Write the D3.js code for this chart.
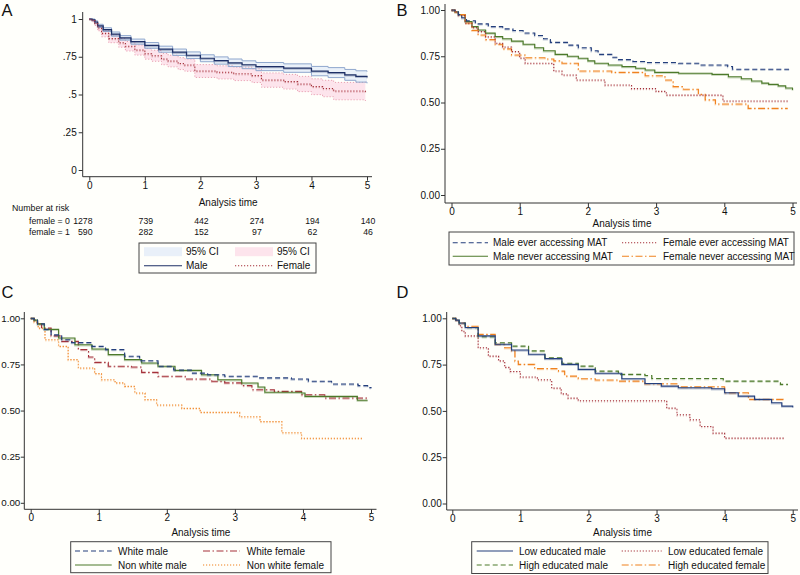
<!DOCTYPE html>
<html><head><meta charset="utf-8">
<script src="https://cdn.jsdelivr.net/npm/d3@7"></script>
<style>body{margin:0;background:#fffffb}svg{display:block}</style>
</head><body><svg id="c" width="800" height="575"></svg>
<script>
// ---------- DATA ----------
const timeTicks = [0, 1, 2, 3, 4, 5];
const yTicks = [0, 0.25, 0.5, 0.75, 1];
const yLabelsA = ["0", ".25", ".5", ".75", "1"];
const yLabelsB = ["0.00", "0.25", "0.50", "0.75", "1.00"];

// Panel A: [time, survival, lower CI, upper CI]
const aMale = [[0,1,1,1],[0.05,0.995,0.99,1],[0.1,0.98,0.972,0.988],[0.15,0.955,0.945,0.965],[0.25,0.93,0.918,0.942],[0.4,0.9,0.886,0.914],[0.55,0.875,0.86,0.89],[0.75,0.85,0.833,0.867],[1.0,0.825,0.806,0.844],[1.25,0.8,0.78,0.82],[1.5,0.78,0.759,0.801],[1.75,0.76,0.738,0.782],[2.0,0.74,0.717,0.763],[2.25,0.725,0.701,0.749],[2.5,0.71,0.685,0.735],[2.75,0.697,0.671,0.723],[3.0,0.685,0.658,0.712],[3.5,0.675,0.647,0.703],[4.0,0.655,0.624,0.686],[4.3,0.645,0.612,0.678],[4.6,0.63,0.594,0.666],[4.8,0.62,0.582,0.657],[5.0,0.614,0.574,0.651]];
const aFemale = [[0,1,1,1],[0.05,0.99,0.982,0.998],[0.1,0.97,0.958,0.982],[0.15,0.94,0.922,0.958],[0.22,0.905,0.882,0.927],[0.35,0.87,0.843,0.896],[0.53,0.843,0.813,0.872],[0.65,0.82,0.788,0.851],[0.82,0.795,0.761,0.828],[1.0,0.77,0.734,0.805],[1.12,0.757,0.72,0.793],[1.3,0.735,0.697,0.772],[1.42,0.722,0.683,0.76],[1.6,0.705,0.665,0.744],[1.72,0.695,0.654,0.735],[1.9,0.656,0.613,0.698],[2.3,0.647,0.603,0.69],[2.6,0.637,0.592,0.681],[2.93,0.625,0.579,0.67],[3.1,0.596,0.548,0.643],[3.5,0.585,0.536,0.633],[3.75,0.57,0.519,0.62],[4.0,0.552,0.499,0.604],[4.2,0.54,0.485,0.594],[4.4,0.523,0.465,0.58],[4.97,0.517,0.457,0.585]];
const riskRowLabels = ["female = 0", "female = 1"];
const riskMale = [1278, 739, 442, 274, 194, 140];
const riskFemale = [590, 282, 152, 97, 62, 46];

// Panel B: [time, survival]
const bMaleEver = [[0,1],[0.05,0.99],[0.1,0.975],[0.15,0.958],[0.22,0.942],[0.35,0.925],[0.54,0.91],[0.75,0.898],[0.9,0.889],[1.05,0.876],[1.22,0.862],[1.35,0.845],[1.45,0.825],[1.7,0.81],[1.86,0.796],[2.05,0.78],[2.15,0.76],[2.35,0.745],[2.45,0.732],[2.66,0.722],[2.84,0.716],[3.33,0.712],[3.64,0.703],[4.05,0.695],[4.12,0.68],[4.95,0.68]];
const bMaleNever = [[0,1],[0.05,0.99],[0.1,0.975],[0.2,0.937],[0.3,0.91],[0.39,0.892],[0.5,0.875],[0.64,0.856],[0.75,0.845],[0.88,0.832],[1.05,0.815],[1.22,0.796],[1.35,0.78],[1.52,0.76],[1.7,0.75],[1.86,0.739],[2.0,0.725],[2.1,0.712],[2.3,0.703],[2.5,0.694],[2.7,0.685],[2.84,0.676],[2.98,0.663],[3.33,0.658],[3.82,0.652],[4.06,0.639],[4.25,0.628],[4.4,0.616],[4.55,0.605],[4.65,0.598],[4.79,0.59],[4.9,0.578],[5.0,0.568]];
const bFemaleEver = [[0,1],[0.05,0.99],[0.1,0.97],[0.2,0.928],[0.3,0.905],[0.39,0.883],[0.5,0.855],[0.64,0.82],[0.75,0.8],[0.88,0.775],[1.0,0.74],[1.08,0.712],[1.47,0.706],[1.5,0.67],[1.62,0.649],[1.83,0.622],[2.25,0.595],[2.64,0.575],[3.0,0.56],[3.15,0.54],[3.98,0.508],[4.93,0.508]];
const bFemaleNever = [[0,1],[0.05,0.99],[0.1,0.975],[0.2,0.93],[0.3,0.89],[0.39,0.865],[0.5,0.84],[0.64,0.815],[0.75,0.79],[0.88,0.757],[1.08,0.742],[1.37,0.735],[1.5,0.725],[1.62,0.712],[1.86,0.67],[2.35,0.663],[2.84,0.645],[3.13,0.622],[3.25,0.586],[3.4,0.572],[3.62,0.544],[3.72,0.514],[3.87,0.492],[4.35,0.468],[4.93,0.468]];

// Panel C
const cWhiteMale = [[0,1],[0.05,0.99],[0.1,0.97],[0.2,0.94],[0.3,0.91],[0.455,0.884],[0.6,0.868],[0.9,0.848],[1.1,0.83],[1.38,0.794],[1.6,0.77],[1.87,0.74],[2.1,0.72],[2.36,0.703],[2.6,0.694],[2.85,0.686],[3.34,0.677],[3.83,0.671],[4.08,0.659],[4.42,0.644],[4.81,0.635],[4.95,0.624],[5.0,0.622]];
const cWhiteFemale = [[0,1],[0.05,0.99],[0.1,0.97],[0.16,0.947],[0.3,0.905],[0.455,0.875],[0.7,0.83],[0.85,0.79],[0.94,0.761],[1.14,0.74],[1.48,0.736],[1.63,0.707],[1.87,0.686],[2.27,0.671],[2.66,0.659],[2.85,0.65],[3.1,0.635],[3.25,0.613],[3.58,0.604],[3.98,0.586],[4.32,0.568],[4.95,0.568]];
const cNonWhiteMale = [[0,1],[0.05,0.99],[0.1,0.97],[0.2,0.94],[0.41,0.893],[0.65,0.857],[0.9,0.834],[1.14,0.803],[1.38,0.776],[1.63,0.758],[1.87,0.74],[2.12,0.718],[2.51,0.694],[2.75,0.667],[3.1,0.649],[3.34,0.628],[3.44,0.599],[3.98,0.595],[4.03,0.577],[4.8,0.556],[4.95,0.556]];
const cNonWhiteFemale = [[0,1],[0.05,0.98],[0.11,0.947],[0.21,0.884],[0.41,0.848],[0.55,0.776],[0.7,0.731],[0.94,0.7],[1.04,0.667],[1.24,0.65],[1.38,0.631],[1.53,0.595],[1.68,0.559],[1.85,0.53],[2.22,0.512],[2.49,0.49],[3.07,0.466],[3.37,0.44],[3.69,0.38],[3.98,0.35],[4.88,0.35]];

// Panel D
const dLowMale = [[0,1],[0.05,0.99],[0.1,0.975],[0.19,0.95],[0.38,0.905],[0.63,0.86],[0.87,0.829],[1.12,0.806],[1.36,0.782],[1.61,0.751],[1.85,0.724],[2.1,0.703],[2.49,0.674],[2.83,0.648],[3.07,0.634],[3.32,0.625],[3.81,0.62],[4.0,0.598],[4.2,0.58],[4.44,0.562],[4.69,0.544],[4.84,0.526],[5.0,0.52]];
const dHighMale = [[0,1],[0.05,0.99],[0.1,0.975],[0.19,0.95],[0.38,0.9],[0.63,0.868],[0.87,0.85],[1.12,0.824],[1.36,0.787],[1.61,0.757],[1.85,0.742],[2.1,0.715],[2.44,0.697],[2.83,0.691],[2.93,0.675],[3.96,0.675],[3.98,0.661],[4.79,0.661],[4.82,0.643],[4.93,0.643]];
const dLowFemale = [[0,1],[0.05,0.99],[0.1,0.96],[0.14,0.93],[0.19,0.905],[0.38,0.841],[0.53,0.796],[0.68,0.77],[0.77,0.735],[0.85,0.713],[1.0,0.683],[1.25,0.668],[1.46,0.623],[1.6,0.592],[1.7,0.569],[1.85,0.555],[3.05,0.555],[3.15,0.515],[3.3,0.479],[3.49,0.452],[3.64,0.416],[3.83,0.38],[4.0,0.353],[4.89,0.353]];
const dHighFemale = [[0,1],[0.05,0.99],[0.1,0.975],[0.19,0.957],[0.38,0.913],[0.63,0.86],[0.77,0.841],[0.87,0.824],[0.92,0.769],[0.97,0.751],[1.21,0.728],[1.56,0.715],[1.65,0.688],[1.85,0.674],[2.1,0.667],[2.44,0.661],[2.83,0.647],[3.32,0.63],[3.96,0.63],[4.0,0.598],[4.3,0.598],[4.35,0.562],[4.86,0.559]];

// ---------- STYLE ----------
const NAVY = "#243f7c", MAROON = "#a5313a", GREEN = "#4c7a2a", ORANGE = "#f0821f";
const DASH = "5,3", DOT = "1.2,1.8", DASHDOT = "7,2.5,1.5,2.5";
const FONT = "'Liberation Sans', Arial, Helvetica, sans-serif";

const svg = d3.select("#c");
svg.append("rect").attr("width", 800).attr("height", 575).attr("fill", "#fffffb");

function makePanel(cfg) {
  const g = svg.append("g");
  const x = d3.scaleLinear().domain([0, 5]).range(cfg.xr);
  const y = d3.scaleLinear().domain([0, 1]).range(cfg.yr);
  const fs = cfg.yFont || 10;

  const ya = d3.axisLeft(y).tickValues(yTicks).tickFormat((d, i) => cfg.yLabels[i])
    .tickSize(cfg.tick || 4).tickPadding(cfg.pad || 1).tickSizeOuter(0);
  const gy = g.append("g").attr("transform", `translate(${cfg.axX},0)`).call(ya);
  gy.select(".domain").remove();
  gy.selectAll("line").attr("stroke", "#333");
  gy.selectAll("text").attr("font-family", FONT).attr("font-size", fs).attr("fill", "#111");
  g.append("line").attr("x1", cfg.axX).attr("x2", cfg.axX).attr("y1", cfg.top).attr("y2", cfg.axY)
    .attr("stroke", "#333").attr("stroke-width", 1);

  const xa = d3.axisBottom(x).tickValues(timeTicks).tickFormat(d3.format("d"))
    .tickSize(4).tickPadding(1).tickSizeOuter(0);
  const gx = g.append("g").attr("transform", `translate(0,${cfg.axY})`).call(xa);
  gx.select(".domain").remove();
  gx.selectAll("line").attr("stroke", "#333");
  gx.selectAll("text").attr("font-family", FONT).attr("font-size", 10).attr("fill", "#111");
  g.append("line").attr("x1", cfg.axX).attr("x2", cfg.right).attr("y1", cfg.axY).attr("y2", cfg.axY)
    .attr("stroke", "#333").attr("stroke-width", 1);

  g.append("text").attr("x", (cfg.xr[0] + cfg.xr[1]) / 2).attr("y", cfg.titleY)
    .attr("text-anchor", "middle").attr("font-family", FONT).attr("font-size", 10).attr("fill", "#111")
    .text("Analysis time");

  g.append("text").attr("x", cfg.letterX).attr("y", cfg.letterY).attr("font-family", FONT)
    .attr("font-size", 16.5).attr("fill", "#111").text(cfg.letter);

  return {g, x, y};
}

function stepLine(p, data, color, dash, width) {
  const line = d3.line().x(d => p.x(d[0])).y(d => p.y(d[1])).curve(d3.curveStepAfter);
  p.g.append("path").attr("d", line(data)).attr("fill", "none").attr("stroke", color)
    .attr("stroke-width", 1.6).attr("stroke-opacity", 0.28).attr("transform", "translate(0,0.9)")
    .attr("stroke-dasharray", dash || null);
  p.g.append("path").attr("d", line(data)).attr("fill", "none").attr("stroke", color)
    .attr("stroke-width", width || 1.1).attr("stroke-dasharray", dash || null);
}

function legend(box, rows, rowYs, cols) {
  svg.append("rect").attr("x", box[0]).attr("y", box[1]).attr("width", box[2] - box[0]).attr("height", box[3] - box[1])
    .attr("fill", "#fffffb").attr("stroke", "#444").attr("stroke-width", 1);
  rows.forEach((it, i) => {
    const r = Math.floor(i / 2), c = i % 2;
    const cy = rowYs[r], c0 = cols[c];
    if (it.swatch) {
      svg.append("rect").attr("x", c0[0]).attr("y", cy - 4.5).attr("width", c0[1] - c0[0]).attr("height", 9)
        .attr("fill", it.swatch);
    } else {
      svg.append("line").attr("x1", c0[0]).attr("x2", c0[1]).attr("y1", cy).attr("y2", cy)
        .attr("stroke", it.color).attr("stroke-width", 1.1).attr("stroke-dasharray", it.dash || null);
    }
    svg.append("text").attr("x", c0[2]).attr("y", cy + 3.6).attr("font-family", FONT).attr("font-size", 10)
      .attr("fill", "#111").text(it.label);
  });
}

// ---------- PANEL A ----------
const pA = makePanel({xr: [89.3, 367], yr: [170, 19], axX: 82.7, axY: 176.7, top: 12, right: 372,
  yLabels: yLabelsA, titleY: 205.5, letter: "A", letterX: 1.5, letterY: 15.5, tick: 4, pad: 2});
const areaA = (col) => d3.area().x(d => pA.x(d[0])).y0(d => pA.y(d[col[0]])).y1(d => pA.y(d[col[1]])).curve(d3.curveStepAfter);
const lineA = (col) => d3.line().x(d => pA.x(d[0])).y(d => pA.y(d[col])).curve(d3.curveStepAfter);
pA.g.append("path").attr("d", areaA([2, 3])(aFemale)).attr("fill", "#fde4ec");
pA.g.append("path").attr("d", areaA([2, 3])(aMale)).attr("fill", "#e6eef8").attr("fill-opacity", 0.85);
[2, 3].forEach(c => pA.g.append("path").attr("d", lineA(c)(aFemale)).attr("fill", "none")
  .attr("stroke", "#e9a1b3").attr("stroke-width", 1).attr("stroke-dasharray", DOT));
[2, 3].forEach(c => pA.g.append("path").attr("d", lineA(c)(aMale)).attr("fill", "none")
  .attr("stroke", "#8fa7cd").attr("stroke-width", 1));
stepLine(pA, aMale.map(d => [d[0], d[1]]), "#1d2f66", null, 1.2);
stepLine(pA, aFemale.map(d => [d[0], d[1]]), MAROON, DOT, 1.1);

// number at risk
svg.append("text").attr("x", 12).attr("y", 210.5).attr("font-family", FONT).attr("font-size", 8.8)
  .attr("fill", "#111").text("Number at risk");
[[riskMale, 224], [riskFemale, 235]].forEach(([vals, yy], r) => {
  svg.append("text").attr("x", 29).attr("y", yy).attr("font-family", FONT).attr("font-size", 8.7)
    .attr("fill", "#111").text(riskRowLabels[r]);
  vals.forEach((v, i) => {
    svg.append("text").attr("x", i === 0 ? 92.5 : pA.x(timeTicks[i]) + 1).attr("y", yy)
      .attr("text-anchor", i === 0 ? "end" : "middle").attr("font-family", FONT).attr("font-size", 8.7)
      .attr("fill", "#111").text(v);
  });
});
legend([139, 243, 316, 273],
  [{swatch: "#e9f0f9", label: "95% CI"}, {swatch: "#fde4ec", label: "95% CI"},
   {color: "#1d2f66", label: "Male"}, {color: MAROON, dash: DOT, label: "Female"}],
  [251.7, 265.7], [[144, 182, 186], [235, 273, 277]]);

// ---------- PANEL B ----------
const pB = makePanel({xr: [451.5, 792.5], yr: [195, 10], axX: 445, axY: 203, top: 4, right: 797,
  yLabels: yLabelsB, titleY: 226.5, letter: "B", letterX: 396.5, letterY: 15.5});
stepLine(pB, bMaleNever, GREEN, null);
stepLine(pB, bFemaleNever, ORANGE, DASHDOT);
stepLine(pB, bFemaleEver, MAROON, DOT);
stepLine(pB, bMaleEver, NAVY, DASH);
legend([449, 232, 794, 265],
  [{color: NAVY, dash: DASH, label: "Male ever accessing MAT"}, {color: MAROON, dash: DOT, label: "Female ever accessing MAT"},
   {color: GREEN, label: "Male never accessing MAT"}, {color: ORANGE, dash: DASHDOT, label: "Female never accessing MAT"}],
  [242.7, 256.2], [[452.7, 488, 493], [622, 658, 663]]);

// ---------- PANEL C ----------
const pC = makePanel({xr: [30.7, 371], yr: [502.8, 318.3], axX: 24.3, axY: 509.3, top: 312, right: 376.5,
  yLabels: yLabelsB, titleY: 535.5, letter: "C", letterX: 1.5, letterY: 298, tick: 3.5, pad: 0.5, yFont: 9.8});
stepLine(pC, cNonWhiteFemale, ORANGE, DOT);
stepLine(pC, cWhiteFemale, MAROON, DASHDOT);
stepLine(pC, cNonWhiteMale, GREEN, null);
stepLine(pC, cWhiteMale, NAVY, DASH);
legend([70.7, 541.7, 331, 572.7],
  [{color: NAVY, dash: DASH, label: "White male"}, {color: MAROON, dash: DASHDOT, label: "White female"},
   {color: GREEN, label: "Non white male"}, {color: ORANGE, dash: DOT, label: "Non white female"}],
  [551, 565], [[75, 111.7, 118], [203, 240, 246.7]]);

// ---------- PANEL D ----------
const pD = makePanel({xr: [452.3, 792.7], yr: [503.5, 318.3], axX: 446.7, axY: 510, top: 312, right: 798,
  yLabels: yLabelsB, titleY: 535.5, letter: "D", letterX: 396.5, letterY: 298});
stepLine(pD, dLowFemale, MAROON, DOT);
stepLine(pD, dHighFemale, ORANGE, DASHDOT);
stepLine(pD, dHighMale, GREEN, DASH);
stepLine(pD, dLowMale, NAVY, null);
legend([471.7, 541.7, 768, 573.5],
  [{color: NAVY, label: "Low educated male"}, {color: MAROON, dash: DOT, label: "Low educated female"},
   {color: GREEN, dash: DASH, label: "High educated male"}, {color: ORANGE, dash: DASHDOT, label: "High educated female"}],
  [551, 565], [[476.7, 513, 519], [621.7, 661.7, 668]]);
</script>
</body></html>
